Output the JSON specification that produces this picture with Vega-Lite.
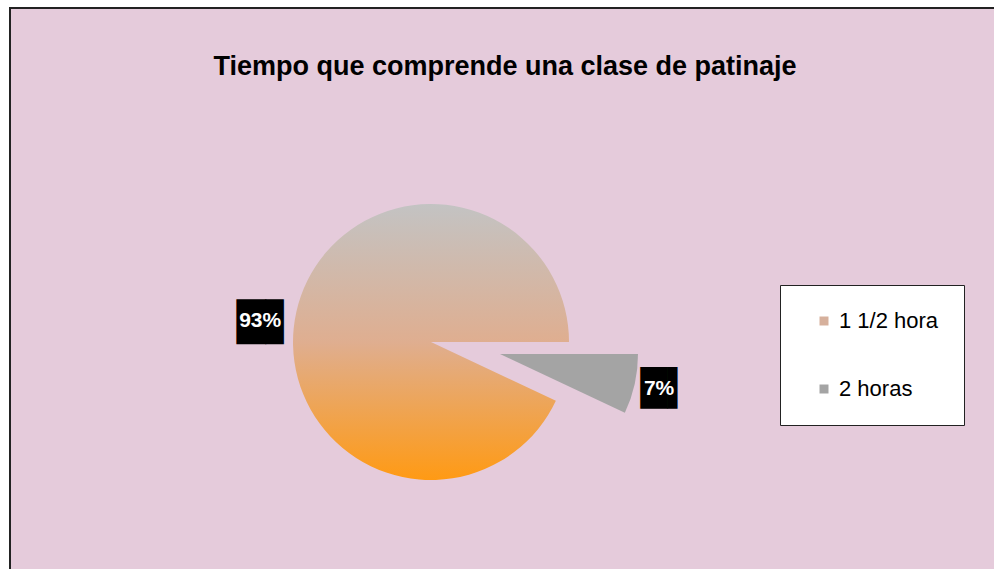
{
  "$schema": "https://vega.github.io/schema/vega-lite/v6.json",
  "width": 990,
  "height": 570,
  "padding": {"left": 10, "top": 8, "right": 0, "bottom": 0},
  "background": "white",
  "view": {"fill": "#e5cbdb", "stroke": "#222222", "strokeWidth": 2},
  "title": {
    "text": "Tiempo que comprende una clase de patinaje",
    "font": "Liberation Sans",
    "fontSize": 27,
    "fontWeight": "bold",
    "color": "black",
    "anchor": "middle",
    "baseline": "alphabetic",
    "offset": -94
  },
  "data": {"values": [
    {"cat": "1 1/2 hora", "value": 0.93},
    {"cat": "2 horas", "value": 0.07}
  ]},
  "encoding": {
    "theta": {"field": "value", "type": "quantitative", "stack": true, "scale": {"range": [1.5708, 7.854]}},
    "order": {"field": "cat", "type": "ordinal", "sort": "descending"}
  },
  "layer": [
    {
      "mark": {"type": "arc", "outerRadius": 138, "xOffset": -74, "yOffset": 49,
        "color": {"gradient": "linear", "x1": 0, "y1": 0, "x2": 0, "y2": 1,
          "stops": [{"offset": 0, "color": "#c3c3c3"}, {"offset": 0.5, "color": "#dfae90"}, {"offset": 1, "color": "#ff9a14"}]}},
      "encoding": {"opacity": {"condition": {"test": "datum.cat === '2 horas'", "value": 0}, "value": 1}}
    },
    {
      "mark": {"type": "arc", "outerRadius": 138, "xOffset": -5, "yOffset": 61, "color": "#a4a4a4"},
      "encoding": {"opacity": {"condition": {"test": "datum.cat === '2 horas'", "value": 1}, "value": 0}}
    },
    {
      "mark": {"type": "text", "radius": 172, "xOffset": -71.5, "yOffset": 69, "font": "DejaVu Sans", "fontSize": 38, "color": "black", "align": "center", "baseline": "middle"},
      "encoding": {"text": {"value": "█▋"}, "opacity": {"condition": {"test": "datum.cat === '2 horas'", "value": 0}, "value": 1}}
    },
    {
      "mark": {"type": "text", "radius": 172, "xOffset": -77, "yOffset": 66, "font": "Liberation Sans", "fontSize": 21, "fontWeight": "bold", "color": "white", "align": "center", "baseline": "middle"},
      "encoding": {"text": {"field": "value", "type": "quantitative", "format": ".0%"}, "opacity": {"condition": {"test": "datum.cat === '2 horas'", "value": 0}, "value": 1}}
    },
    {
      "mark": {"type": "text", "radius": 162, "xOffset": 4.5, "yOffset": 61, "font": "DejaVu Sans", "fontSize": 35, "color": "black", "align": "center", "baseline": "middle"},
      "encoding": {"text": {"value": "█▍"}, "opacity": {"condition": {"test": "datum.cat === '2 horas'", "value": 1}, "value": 0}}
    },
    {
      "mark": {"type": "text", "radius": 162, "xOffset": -4, "yOffset": 61, "font": "Liberation Sans", "fontSize": 21, "fontWeight": "bold", "color": "white", "align": "center", "baseline": "middle"},
      "encoding": {"text": {"field": "value", "type": "quantitative", "format": ".0%"}, "opacity": {"condition": {"test": "datum.cat === '2 horas'", "value": 1}, "value": 0}}
    },
    {
      "mark": {"type": "arc", "outerRadius": 138, "xOffset": -74, "yOffset": 49, "opacity": 0},
      "encoding": {
        "color": {
          "field": "cat", "type": "nominal",
          "scale": {"domain": ["1 1/2 hora", "2 horas"], "range": ["#d6b09c", "#a4a4a4"]},
          "legend": {
            "title": null,
            "orient": "none",
            "legendX": 770,
            "legendY": 277,
            "fillColor": "white",
            "strokeColor": "#222222",
            "padding": 25,
            "symbolType": "square",
            "symbolSize": 81,
            "symbolOffset": 8,
            "symbolOpacity": 1,
            "symbolStrokeWidth": 0,
            "labelFont": "Liberation Sans",
            "labelFontSize": 22,
            "labelColor": "black",
            "labelOffset": 4,
            "rowPadding": 46,
            "encoding": {"symbols": {"update": {"fill": [
              {"test": "datum.value === '1 1/2 hora'", "value": {"gradient": "linear", "x1": 0, "y1": 0, "x2": 0, "y2": 1, "stops": [{"offset": 0, "color": "#c3c3c3"}, {"offset": 0.45, "color": "#c8b8b0"}, {"offset": 1, "color": "#ff9a14"}]}},
              {"value": "#a4a4a4"}
            ]}}}
          }
        }
      }
    }
  ]
}
